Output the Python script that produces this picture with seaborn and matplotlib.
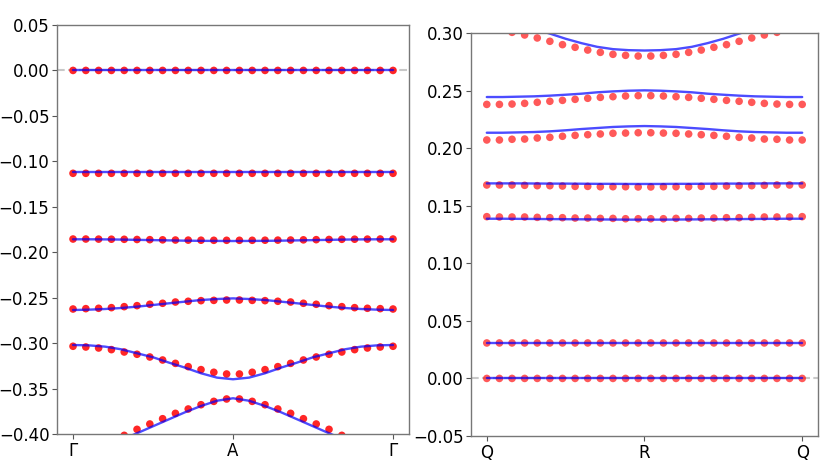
import numpy as np
import pandas as pd
import matplotlib
matplotlib.use("Agg")
import matplotlib.pyplot as plt
import seaborn as sns
from matplotlib.ticker import MultipleLocator

sns.set_style("ticks")
plt.rcParams["font.family"] = ["DejaVu Sans"]

# k-path positions (fraction of path)
k_dots = np.linspace(0, 1, 26)
k_line = np.linspace(0, 1, 21)

# ---- left panel: Gamma - A - Gamma ----
left_ticks = ["Γ", "A", "Γ"]
left_dots = {
    0: [0.0] * 26,
    1: [-0.1132] * 26,
    2: [-0.1855, -0.1855, -0.1856, -0.1857, -0.1858, -0.1860, -0.1862, -0.1864, -0.1866,
        -0.1867, -0.1868, -0.1869, -0.1869, -0.1869, -0.1869, -0.1868, -0.1867, -0.1866,
        -0.1864, -0.1862, -0.1860, -0.1858, -0.1857, -0.1856, -0.1855, -0.1855],
    3: [-0.2625, -0.2621, -0.2617, -0.2610, -0.2599, -0.2588, -0.2573, -0.2562, -0.2548,
        -0.2540, -0.2533, -0.2530, -0.2526, -0.2526, -0.2530, -0.2533, -0.2540, -0.2548,
        -0.2562, -0.2573, -0.2588, -0.2599, -0.2610, -0.2617, -0.2621, -0.2625],
    4: [-0.3035, -0.3043, -0.3054, -0.3072, -0.3098, -0.3123, -0.3153, -0.3186, -0.3223,
        -0.3259, -0.3292, -0.3321, -0.3340, -0.3340, -0.3321, -0.3292, -0.3259, -0.3223,
        -0.3186, -0.3153, -0.3123, -0.3098, -0.3072, -0.3054, -0.3043, -0.3035],
    5: [-0.4200, -0.4180, -0.4140, -0.4080, -0.4015, -0.3949, -0.3890, -0.3832, -0.3773,
        -0.3725, -0.3678, -0.3641, -0.3615, -0.3615, -0.3641, -0.3678, -0.3725, -0.3773,
        -0.3832, -0.3890, -0.3949, -0.4015, -0.4080, -0.4140, -0.4180, -0.4200],
}
left_lines = {
    0: [0.0] * 21,
    1: [-0.1114] * 21,
    2: [-0.1858, -0.1858, -0.1859, -0.1861, -0.1864, -0.1867, -0.1870, -0.1873, -0.1875, -0.1876,
        -0.1877, -0.1876, -0.1875, -0.1873, -0.1870, -0.1867, -0.1864, -0.1861, -0.1859, -0.1858, -0.1858],
    3: [-0.2636, -0.2632, -0.2625, -0.2614, -0.2599, -0.2581, -0.2562, -0.2544, -0.2526, -0.2515,
        -0.2508, -0.2515, -0.2526, -0.2544, -0.2562, -0.2581, -0.2599, -0.2614, -0.2625, -0.2632, -0.2636],
    4: [-0.3021, -0.3025, -0.3039, -0.3068, -0.3112, -0.3156, -0.3215, -0.3270, -0.3332, -0.3380,
        -0.3398, -0.3380, -0.3332, -0.3270, -0.3215, -0.3156, -0.3112, -0.3068, -0.3039, -0.3025, -0.3021],
    5: [-0.4200, -0.4180, -0.4130, -0.4065, -0.3992, -0.3915, -0.3838, -0.3761, -0.3692, -0.3634,
        -0.3607, -0.3634, -0.3692, -0.3761, -0.3838, -0.3915, -0.3992, -0.4065, -0.4130, -0.4180, -0.4200],
}

# ---- right panel: Q - R - Q ----
right_ticks = ["Q", "R", "Q"]
right_dots = {
    0: [0.0] * 26,
    1: [0.0308] * 26,
    2: [0.1405, 0.1402, 0.1402, 0.1402, 0.1399, 0.1396, 0.1396, 0.1393, 0.1393, 0.1390, 0.1390,
        0.1387, 0.1387, 0.1387, 0.1387, 0.1390, 0.1390, 0.1393, 0.1393, 0.1396, 0.1396, 0.1399,
        0.1402, 0.1402, 0.1402, 0.1405],
    3: [0.1680, 0.1680, 0.1680, 0.1677, 0.1674, 0.1674, 0.1671, 0.1668, 0.1668, 0.1665, 0.1665,
        0.1665, 0.1663, 0.1663, 0.1665, 0.1665, 0.1665, 0.1668, 0.1668, 0.1671, 0.1674, 0.1674,
        0.1677, 0.1680, 0.1680, 0.1680],
    4: [0.2071, 0.2071, 0.2077, 0.2079, 0.2088, 0.2094, 0.2103, 0.2111, 0.2117, 0.2123, 0.2129,
        0.2131, 0.2134, 0.2134, 0.2131, 0.2129, 0.2123, 0.2117, 0.2111, 0.2103, 0.2094, 0.2088,
        0.2079, 0.2077, 0.2071, 0.2071],
    5: [0.2380, 0.2380, 0.2383, 0.2389, 0.2398, 0.2407, 0.2415, 0.2424, 0.2433, 0.2441, 0.2447,
        0.2453, 0.2456, 0.2456, 0.2453, 0.2447, 0.2441, 0.2433, 0.2424, 0.2415, 0.2407, 0.2398,
        0.2389, 0.2383, 0.2380, 0.2380],
    6: [0.3040, 0.3028, 0.3006, 0.2983, 0.2957, 0.2928, 0.2899, 0.2876, 0.2852, 0.2832, 0.2815,
        0.2806, 0.2800, 0.2800, 0.2806, 0.2815, 0.2832, 0.2852, 0.2876, 0.2899, 0.2928, 0.2957,
        0.2983, 0.3006, 0.3028, 0.3040],
}
right_lines = {
    0: [0.0] * 21,
    1: [0.0308] * 21,
    2: [0.1387, 0.1387, 0.1386, 0.1385, 0.1384, 0.1383, 0.1382, 0.1381, 0.1380, 0.1379,
        0.1379, 0.1379, 0.1380, 0.1381, 0.1382, 0.1383, 0.1384, 0.1385, 0.1386, 0.1387, 0.1387],
    3: [0.1694, 0.1694, 0.1694, 0.1693, 0.1692, 0.1692, 0.1691, 0.1690, 0.1690, 0.1689,
        0.1689, 0.1689, 0.1690, 0.1690, 0.1691, 0.1692, 0.1692, 0.1693, 0.1694, 0.1694, 0.1694],
    4: [0.2134, 0.2134, 0.2137, 0.2140, 0.2146, 0.2155, 0.2166, 0.2175, 0.2184, 0.2189,
        0.2192, 0.2189, 0.2184, 0.2175, 0.2166, 0.2155, 0.2146, 0.2140, 0.2137, 0.2134, 0.2134],
    5: [0.2444, 0.2444, 0.2447, 0.2450, 0.2456, 0.2464, 0.2473, 0.2485, 0.2493, 0.2499,
        0.2502, 0.2499, 0.2493, 0.2485, 0.2473, 0.2464, 0.2456, 0.2450, 0.2447, 0.2444, 0.2444],
    6: [0.3150, 0.3130, 0.3090, 0.3035, 0.2995, 0.2950, 0.2912, 0.2880, 0.2860, 0.2851,
        0.2848, 0.2851, 0.2860, 0.2880, 0.2912, 0.2950, 0.2995, 0.3035, 0.3090, 0.3130, 0.3150],
}


def to_long(bands, k):
    rows = []
    for b, vals in bands.items():
        rows.append(pd.DataFrame({"k": k, "E": vals, "band": b}))
    return pd.concat(rows, ignore_index=True)


def draw_panel(ax, dots, lines, ticks, ylim, dot_alpha):
    ax.axhline(0, color="#c8c8c8", ls="--", lw=1.5, zorder=0)
    sns.scatterplot(data=to_long(dots, k_dots), x="k", y="E", color="red", alpha=dot_alpha,
                    s=30, edgecolor="none", legend=False, ax=ax)
    sns.lineplot(data=to_long(lines, k_line), x="k", y="E", units="band", estimator=None,
                 color="blue", alpha=0.7, lw=1.7, legend=False, ax=ax)
    ax.set_xlim(-0.05, 1.05)
    ax.set_ylim(*ylim)
    ax.set_xticks([0, 0.5, 1], ticks)
    ax.yaxis.set_major_locator(MultipleLocator(0.05))
    ax.set_xlabel("")
    ax.set_ylabel("")
    ax.tick_params(labelsize=12, labelcolor="black", color="#555555", length=3.5, pad=2)
    for sp in ax.spines.values():
        sp.set_color("#777777")
        sp.set_linewidth(1.0)


fig = plt.figure(figsize=(8.3, 4.67), dpi=100)
ax1 = fig.add_axes([0.0687, 0.0707, 0.4241, 0.8758])
ax2 = fig.add_axes([0.5675, 0.0664, 0.4180, 0.8629])

draw_panel(ax1, left_dots, left_lines, left_ticks, (-0.40, 0.05), 0.85)
draw_panel(ax2, right_dots, right_lines, right_ticks, (-0.05, 0.30), 0.65)

fig.savefig("out.png", dpi=100)
